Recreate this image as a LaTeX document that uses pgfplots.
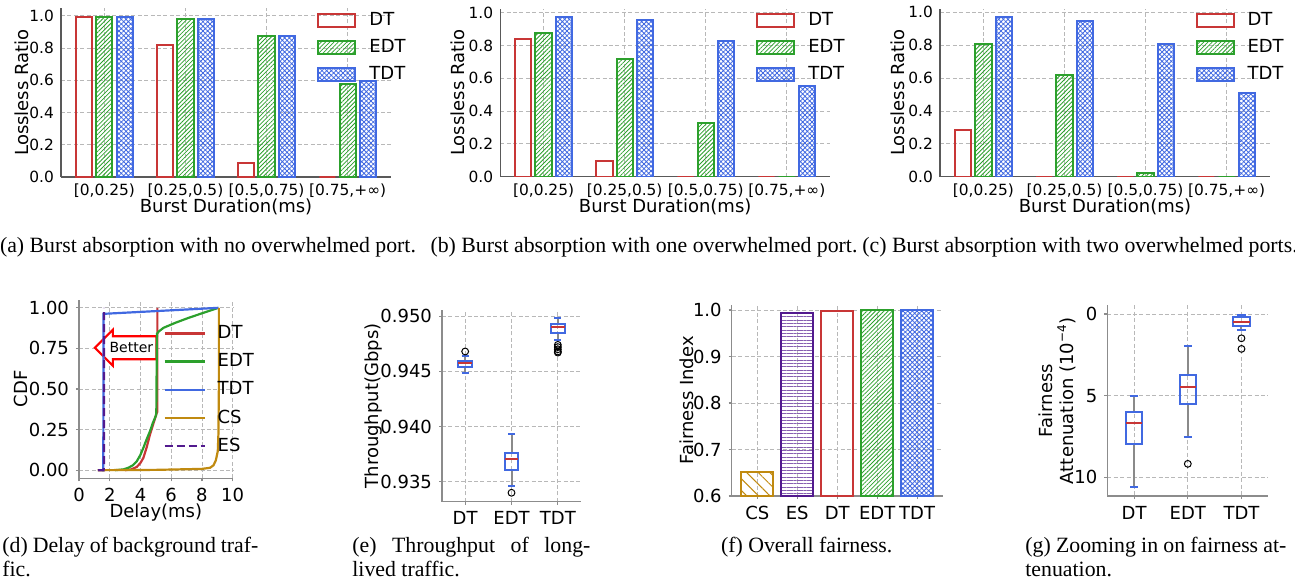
\documentclass[border=0pt]{standalone}
\usepackage{fontspec}
\setmainfont{Liberation Serif}
\newfontfamily\plotfont{DejaVu Sans}
\usepackage{pgfplots}
\pgfplotsset{compat=1.18}
\usepgfplotslibrary{statistics}
\usetikzlibrary{patterns.meta,shapes.arrows}

\definecolor{dtred}{HTML}{C83636}
\definecolor{edtgreen}{HTML}{2CA02C}
\definecolor{tdtblue}{HTML}{4169E1}
\definecolor{csgold}{HTML}{C08A10}
\definecolor{esindigo}{HTML}{521A8E}
\definecolor{whiskgray}{HTML}{8A8A8A}

\newcommand\ftickA{\plotfont\fontsize{7.7}{9}\selectfont}
\newcommand\flab{\plotfont\fontsize{9}{10.5}\selectfont}
\newcommand\fbetter{\plotfont\fontsize{7}{8}\selectfont}
\newcommand\fcap{\fontsize{10.9}{13}\selectfont}

\tikzset{bxcap/.style={draw=tdtblue, line width=1pt}}

\pgfplotsset{
  /pgf/number format/assume math mode=true,
  gridstyle/.style={draw=black!28, line width=0.4pt, dash pattern=on 2pt off 1.2pt},
  legpatch/.style={legend image code/.code={\draw[##1,line width=1pt] (0pt,-3.25pt) rectangle (18.5pt,3.25pt);}},
  rowone/.style={
    anchor=south west, scale only axis, width=165pt,
    xmin=-0.535, xmax=3.535, ymin=0,
    axis x line*=bottom, axis y line*=left,
    axis line style={draw=black!65, line width=0.6pt},
    major tick length=0pt,
    xtick={0,1,2,3},
    xticklabels={{[0,0.25)},{[0.25,0.5)},{[0.5,0.75)},{[0.75,+∞)}},
    ytick={0,0.2,0.4,0.6,0.8,1.0},
    yticklabel style={/pgf/number format/.cd, fixed, fixed zerofill, precision=1},
    grid=major, grid style={gridstyle},
    tick label style={font=\ftickA},
    label style={font=\flab},
    xlabel={Burst Duration(ms)}, ylabel={Lossless Ratio},
    xlabel style={at={(axis description cs:0.5,-0.178)}, anchor=center},
    ylabel style={anchor=center},
    legend cell align=left,
    legend style={draw=none, fill=none, inner sep=0pt, row sep=1.5pt, font=\flab, anchor=north west,
      /tikz/every odd column/.append style={column sep=4.5pt}},
  },
  rowtwo/.style={
    anchor=south west, scale only axis,
    axis x line*=bottom, axis y line*=left,
    axis line style={draw=black!45, line width=0.6pt},
    tick style={draw=black!45, line width=0.6pt},
    major tick length=1.5pt, tick align=outside,
    grid=major, grid style={gridstyle},
    tick label style={font=\flab},
    label style={font=\flab},
    ylabel style={anchor=center},
    scaled y ticks=false, scaled x ticks=false,
  },
  dtbar/.style={ybar, bar width=0.2, bar shift=-0.25, draw=dtred, line width=1pt, fill=none, legpatch},
  edtbar/.style={ybar, bar width=0.2, bar shift=0, draw=edtgreen, line width=1pt,
    pattern={Lines[angle=45, distance=1.5pt, line width=0.4pt]}, pattern color=edtgreen, legpatch},
  tdtbar/.style={ybar, bar width=0.2, bar shift=0.25, draw=tdtblue, line width=1pt,
    pattern={Hatch[angle=45, distance=1.65pt, line width=0.4pt]}, pattern color=tdtblue, legpatch},
  bxp/.style={
    black, mark=o, mark size=1.7pt, mark options={draw=black, fill=none, line width=0.5pt, solid},
    boxplot/draw direction=y,
    boxplot/box extend=0.3, boxplot/whisker extend=0.15,
    boxplot/every box/.style={draw=tdtblue, line width=1pt, fill=none},
    boxplot/every median/.style={draw=dtred, line width=1pt},
    boxplot/every whisker/.style={draw=whiskgray, line width=1pt},
    boxplot/draw/lower whisker/.code={%
      \draw[/pgfplots/boxplot/every whisker/.try]
        (boxplot cs:\pgfplotsboxplotvalue{lower whisker}) -- (boxplot cs:\pgfplotsboxplotvalue{lower quartile});
      \draw[bxcap]
        (boxplot whisker cs:\pgfplotsboxplotvalue{lower whisker},0) -- (boxplot whisker cs:\pgfplotsboxplotvalue{lower whisker},1);
    },
    boxplot/draw/upper whisker/.code={%
      \draw[/pgfplots/boxplot/every whisker/.try]
        (boxplot cs:\pgfplotsboxplotvalue{upper whisker}) -- (boxplot cs:\pgfplotsboxplotvalue{upper quartile});
      \draw[bxcap]
        (boxplot whisker cs:\pgfplotsboxplotvalue{upper whisker},0) -- (boxplot whisker cs:\pgfplotsboxplotvalue{upper whisker},1);
    },
  },
}

\begin{document}
\begin{tikzpicture}
\path[use as bounding box] (0pt,0pt) rectangle (647.5pt,-292pt);

% (a) no overwhelmed port
\begin{axis}[rowone, at={(30.5pt,-88.5pt)}, height=84.5pt, ymax=1.048,
  ylabel style={at={(axis description cs:-0.118,0.5)}},
  legend style={at={(axis description cs:0.776,1.0)}}]
\addplot[dtbar] coordinates {(0,0.99)(1,0.82)(2,0.085)(3,0)};
\addlegendentry{DT}
\addplot[edtbar] coordinates {(0,0.99)(1,0.977)(2,0.873)(3,0.577)};
\addlegendentry{EDT}
\addplot[tdtbar] coordinates {(0,0.99)(1,0.977)(2,0.873)(3,0.598)};
\addlegendentry{TDT}
\end{axis}

% (b) one overwhelmed port
\begin{axis}[rowone, at={(250.1pt,-88.35pt)}, height=84pt, ymax=1.024,
  ylabel style={at={(axis description cs:-0.128,0.5)}},
  legend style={at={(axis description cs:0.775,1.004)}}]
\addplot[dtbar] coordinates {(0,0.84)(1,0.098)(2,0)(3,0)};
\addlegendentry{DT}
\addplot[edtbar] coordinates {(0,0.878)(1,0.718)(2,0.327)(3,0)};
\addlegendentry{EDT}
\addplot[tdtbar] coordinates {(0,0.972)(1,0.955)(2,0.829)(3,0.553)};
\addlegendentry{TDT}
\end{axis}

% (c) two overwhelmed ports
\begin{axis}[rowone, at={(470pt,-88.35pt)}, height=84pt, ymax=1.022,
  ylabel style={at={(axis description cs:-0.127,0.5)}},
  legend style={at={(axis description cs:0.773,1.004)}}]
\addplot[dtbar] coordinates {(0,0.285)(1,0)(2,0)(3,0)};
\addlegendentry{DT}
\addplot[edtbar] coordinates {(0,0.805)(1,0.62)(2,0.02)(3,0)};
\addlegendentry{EDT}
\addplot[tdtbar] coordinates {(0,0.972)(1,0.945)(2,0.805)(3,0.512)};
\addlegendentry{TDT}
\end{axis}

% (d) delay CDF
\begin{axis}[rowtwo, at={(39.5pt,-239.15pt)}, width=76.85pt, height=89.3pt,
  xmin=0, xmax=10, ymin=-0.05, ymax=1.05,
  xtick={0,2,4,6,8,10}, ytick={0,0.25,0.5,0.75,1.0},
  yticklabel style={/pgf/number format/.cd, fixed, fixed zerofill, precision=2},
  xlabel={Delay(ms)}, ylabel={CDF},
  xlabel style={at={(axis description cs:0.5,-0.192)}, anchor=center},
  ylabel style={at={(axis description cs:-0.379,0.5)}},
  legend cell align=left,
  legend image code/.code={\draw[#1] (0pt,0pt) -- (20pt,0pt);},
  legend style={draw=none, fill=none, inner sep=0pt, row sep=2pt, font=\flab,
    at={(axis description cs:0.547,0.881)}, anchor=north west,
    /tikz/every odd column/.append style={column sep=4pt}}]
\node[single arrow, shape border rotate=180, draw=red, line width=1.1pt, fill=white,
  minimum height=30.8pt, single arrow head extend=3.25pt, inner xsep=1pt, inner ysep=2.6pt,
  font=\fbetter, anchor=tip] at (axis cs:0.93,0.754) {Better};
\addplot[dtred, line width=1.1pt, mark=none] coordinates {
  (3.0,0)(3.4,0.005)(3.76,0.02)(4.0,0.045)(4.19,0.076)(4.4,0.14)(4.62,0.22)
  (4.85,0.29)(5.06,0.353)(5.10,0.36)(5.10,1.0)};
\addlegendentry{DT}
\addplot[edtgreen, line width=1.1pt, mark=none] coordinates {
  (2.34,0)(2.9,0.005)(3.21,0.015)(3.5,0.03)(3.76,0.055)(4.0,0.095)(4.19,0.138)
  (4.4,0.19)(4.62,0.24)(4.8,0.29)(4.99,0.333)(5.03,0.35)(5.07,0.84)(5.2,0.855)
  (5.5,0.877)(6.25,0.907)(7.12,0.938)(8.09,0.969)(9.07,1.0)};
\addlegendentry{EDT}
\addplot[tdtblue, line width=1.1pt, mark=none] coordinates {
  (1.5,0)(1.58,0)(1.6,0.963)(9.07,1.0)};
\addlegendentry{TDT}
\addplot[csgold, line width=1.1pt, mark=none] coordinates {
  (1.22,0)(5.0,0.002)(8.0,0.008)(8.53,0.015)(8.75,0.03)(8.9,0.06)(9.03,0.117)
  (9.07,0.22)(9.1,0.5)(9.1,1.0)};
\addlegendentry{CS}
\addplot[esindigo, line width=1.1pt, mark=none, dash pattern=on 4pt off 2pt] coordinates {
  (1.22,0)(1.6,0)(1.62,0.02)(1.63,1.0)};
\addlegendentry{ES}
\end{axis}

% (e) throughput of long-lived traffic
\begin{axis}[rowtwo, at={(221pt,-250.85pt)}, width=69.5pt, height=95.75pt,
  xmin=0.5, xmax=3.5, ymin=0.93319, ymax=0.95054,
  xtick={1,2,3}, xticklabels={DT,EDT,TDT},
  ytick={0.935,0.94,0.945,0.95},
  yticklabel style={/pgf/number format/.cd, fixed, fixed zerofill, precision=3},
  ylabel={Throughput(Gbps)},
  ylabel style={at={(axis description cs:-0.496,0.5)}}]
\addplot[bxp, boxplot prepared={draw position=1, lower whisker=0.94481, lower quartile=0.94535,
  median=0.94572, upper quartile=0.94595, upper whisker=0.94640}] coordinates {(1,0.9468)};
\addplot[bxp, boxplot prepared={draw position=2, lower whisker=0.93460, lower quartile=0.93605,
  median=0.93705, upper quartile=0.93756, upper whisker=0.93929}] coordinates {(2,0.9340)};
\addplot[bxp, boxplot prepared={draw position=3, lower whisker=0.94783, lower quartile=0.94849,
  median=0.94898, upper quartile=0.94928, upper whisker=0.94985}] coordinates {
  (3,0.9474)(3,0.9472)(3,0.9470)(3,0.9468)(3,0.9467)};
\end{axis}

% (f) overall fairness
\begin{axis}[rowtwo, at={(365.85pt,-248pt)}, width=105.5pt, height=95.55pt,
  xmin=-0.64, xmax=4.64, ymin=0.6, ymax=1.011,
  xtick={0,1,2,3,4}, xticklabels={CS,ES,DT,EDT,TDT},
  ytick={0.6,0.7,0.8,0.9,1.0},
  yticklabel style={/pgf/number format/.cd, fixed, fixed zerofill, precision=1},
  ylabel={Fairness Index},
  ylabel style={at={(axis description cs:-0.213,0.5)}}]
\addplot[ybar, bar width=0.8, bar shift=0, draw=csgold, line width=1pt,
  pattern={Lines[angle=-45, distance=4.1pt, line width=0.5pt]}, pattern color=csgold]
  coordinates {(0,0.652)};
\addplot[ybar, bar width=0.8, bar shift=0, draw=esindigo, line width=1pt,
  pattern={Lines[angle=0, distance=1.67pt, line width=0.5pt]}, pattern color=esindigo!70]
  coordinates {(1,0.994)};
\addplot[ybar, bar width=0.8, bar shift=0, draw=dtred, line width=1pt, fill=none]
  coordinates {(2,0.998)};
\addplot[ybar, bar width=0.8, bar shift=0, draw=edtgreen, line width=1pt,
  pattern={Lines[angle=45, distance=1.5pt, line width=0.4pt]}, pattern color=edtgreen]
  coordinates {(3,0.999)};
\addplot[ybar, bar width=0.8, bar shift=0, draw=tdtblue, line width=1pt,
  pattern={Hatch[angle=45, distance=1.65pt, line width=0.4pt]}, pattern color=tdtblue]
  coordinates {(4,1.0)};
\end{axis}

% (g) fairness attenuation
\begin{axis}[rowtwo, at={(553.65pt,-248pt)}, width=80.5pt, height=95.35pt,
  y dir=reverse,
  xmin=0.5, xmax=3.5, ymin=-0.53, ymax=11.15,
  xtick={1,2,3}, xticklabels={DT,EDT,TDT},
  ytick={0,5,10},
  ylabel={Fairness\\Attenuation (10\textsuperscript{−4})},
  ylabel style={align=center, at={(axis description cs:-0.309,0.5)}}]
\addplot[bxp, boxplot prepared={draw position=1, lower whisker=5.0, lower quartile=6.02,
  median=6.66, upper quartile=7.96, upper whisker=10.62}] coordinates {};
\addplot[bxp, boxplot prepared={draw position=2, lower whisker=1.94, lower quartile=3.74,
  median=4.49, upper quartile=5.51, upper whisker=7.51}] coordinates {(2,9.18)};
\addplot[bxp, boxplot prepared={draw position=3, lower whisker=0.05, lower quartile=0.20,
  median=0.47, upper quartile=0.72, upper whisker=0.96}] coordinates {(3,1.49)(3,2.14)};
\end{axis}

% captions
\node[anchor=base, font=\fcap] at (104pt,-126pt) {(a) Burst absorption with no overwhelmed port.};
\node[anchor=base, font=\fcap] at (322pt,-126pt) {(b) Burst absorption with one overwhelmed port.};
\node[anchor=base, font=\fcap] at (540pt,-126pt) {(c) Burst absorption with two overwhelmed ports.};
\node[anchor=base west, inner sep=0pt, font=\fcap] at (1pt,-276.3pt) {\makebox[128pt][s]{(d) Delay of background traf-}};
\node[anchor=base west, inner sep=0pt, font=\fcap] at (1pt,-288pt) {fic.};
\node[anchor=base west, inner sep=0pt, font=\fcap] at (176pt,-276.3pt) {\makebox[119pt][s]{(e) Throughput of long-}};
\node[anchor=base west, inner sep=0pt, font=\fcap] at (176pt,-288pt) {lived traffic.};
\node[anchor=base, font=\fcap] at (403.35pt,-276.3pt) {(f) Overall fairness.};
\node[anchor=base west, inner sep=0pt, font=\fcap] at (512.5pt,-276.3pt) {\makebox[130.5pt][s]{(g) Zooming in on fairness at-}};
\node[anchor=base west, inner sep=0pt, font=\fcap] at (512.5pt,-288pt) {tenuation.};
\end{tikzpicture}
\end{document}
